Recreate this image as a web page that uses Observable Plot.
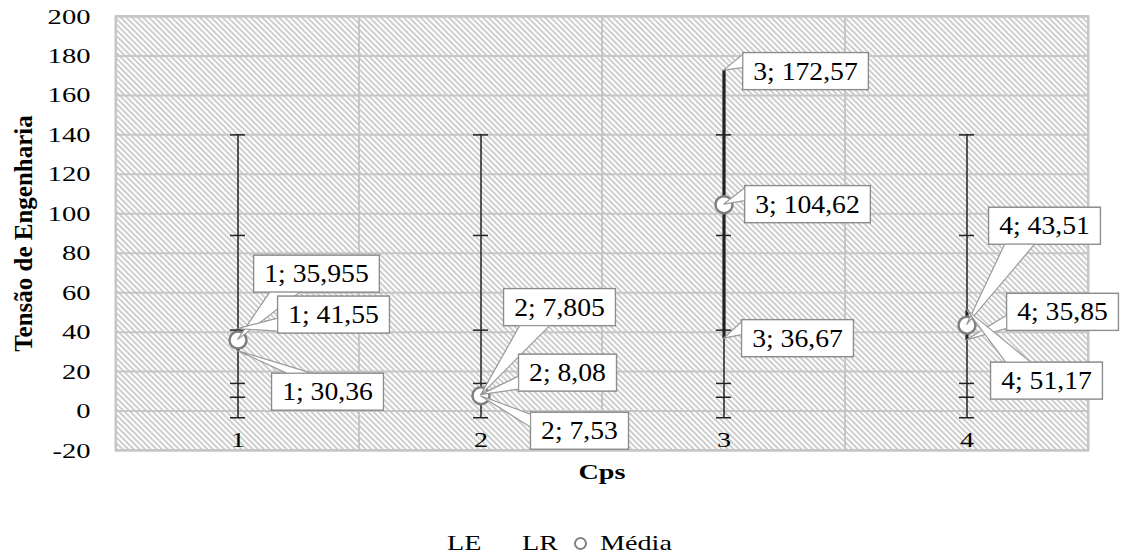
<!DOCTYPE html>
<html>
<head>
<meta charset="utf-8">
<script src="https://cdn.jsdelivr.net/npm/d3@7"></script>
<script src="https://cdn.jsdelivr.net/npm/@observablehq/plot@0.6"></script>
<style>
  body { margin: 0; background: #fff; font-family: "Liberation Serif", serif; }
  #wrap { position: relative; width: 1121px; height: 556px; overflow: hidden; }
  #legend { position: absolute; top: 529px; left: 0; width: 1121px; height: 30px; font-size: 22px; color: #000; }
  #legend .lab { position: absolute; top: 0; white-space: nowrap; transform: scaleX(1.28); transform-origin: 0 50%; line-height: 28px; }
  #legend .mk { position: absolute; top: 8px; width: 9px; height: 9px; border: 2px solid #808080; border-radius: 50%; }
</style>
</head>
<body>
<div id="wrap">
  <div id="chart"></div>
  <div id="legend"></div>
</div>
<script>
// ---- data ----
const categories = ["1", "2", "3", "4"];
const media = [35.955, 7.805, 104.62, 43.51];
const LE = [41.55, 8.08, 36.67, 35.85];
const LR = [30.36, 7.53, 172.57, 51.17];
const whiskerLow = [-3.4, -3.4, -3.4, -3.4];
const whiskerHigh = [140, 140, 140, 140];
const capValues = [140, 89, 41, 14, 7, -3.4];
const yTicks = [-20, 0, 20, 40, 60, 80, 100, 120, 140, 160, 180, 200];
const seriesNames = ["LE", "LR", "Média"];
const xTitle = "Cps";
const yTitle = "Tensão de Engenharia";

// ---- layout (callout box offsets in px from the point; legend item positions) ----
const calloutOffsets = {
  "Média": [[79, -66], [79, -88], [84, 0], [78, -99]],
  "LE":    [[96, -14], [87, -22], [74, 0], [96, -28]],
  "LR":    [[90, 41], [99, 35], [82, 1], [80, 71]]
};
const legendLeft = {"LE": 447, "LR": 522, "Média": 600};

const rows = categories.map((c, i) => ({
  cat: c, media: media[i], le: LE[i], lr: LR[i], lo: whiskerLow[i], hi: whiskerHigh[i]
}));
const caps = rows.flatMap(r => capValues.map(v => ({cat: r.cat, v})));

const chart = Plot.plot({
  width: 1121,
  height: 500,
  marginLeft: 115,
  marginRight: 33,
  marginTop: 16,
  marginBottom: 50,
  style: {fontFamily: "'Liberation Serif', serif", fontSize: "22px", color: "#000", background: "white"},
  x: {type: "band", domain: categories, padding: 0, axis: null},
  y: {domain: [-20, 200], axis: null},
  marks: [
    Plot.cell(categories, {x: d => d, fill: "url(#hatch)", stroke: "#c6c6c6", strokeWidth: 2, inset: 0}),
    Plot.gridY(yTicks, {stroke: "#c6c6c6", strokeOpacity: 1, strokeWidth: 2}),
    Plot.frame({stroke: "#c6c6c6", strokeWidth: 2}),
    Plot.axisY(yTicks, {tickSize: 0, tickPadding: 25, tickFormat: d => String(d), label: null, fontSize: 22, className: "stretch-tick"}),
    Plot.text(categories, {x: d => d, text: d => d, frameAnchor: "bottom", dy: -4, fontSize: 22, className: "stretch-x"}),
    Plot.text([xTitle], {frameAnchor: "bottom", dy: 28, fontWeight: "bold", fontSize: 22, className: "stretch-x"}),
    Plot.text([yTitle], {frameAnchor: "left", textAnchor: "middle", rotate: -90, dx: -92, fontWeight: "bold", fontSize: 25}),
    Plot.ruleX(rows, {x: "cat", y1: "lo", y2: "hi", stroke: "#222", strokeWidth: 1.5}),
    Plot.tickY(caps, {x: "cat", y: "v", stroke: "#222", strokeWidth: 1.5, insetLeft: 114, insetRight: 114}),
    Plot.ruleX(rows, {x: "cat", y1: d => Math.min(d.le, d.lr), y2: d => Math.max(d.le, d.lr), stroke: "#222", strokeWidth: 3.2}),
    Plot.dot(rows, {x: "cat", y: "media", r: 8.5, stroke: "#7f7f7f", strokeWidth: 2.5, fill: "white"})
  ]
});
document.getElementById("chart").append(chart);

const svg = d3.select(chart);
svg.insert("defs", ":first-child").html(
  `<pattern id="hatch" patternUnits="userSpaceOnUse" width="4" height="4" patternTransform="rotate(-45)">
     <rect width="4" height="4" fill="white"/>
     <line x1="1" y1="0" x2="1" y2="4" stroke="#b4b4b4" stroke-width="1.3"/>
   </pattern>`
);

// horizontal stretch of a text element about its anchor (reference glyphs are wide)
function stretch(el, k) {
  const b = el.getBBox();
  const a = getComputedStyle(el).textAnchor;
  const ax = a === "end" ? b.x + b.width : a === "middle" ? b.x + b.width / 2 : b.x;
  const t = el.getAttribute("transform") || "";
  el.setAttribute("transform", `${t} translate(${ax},0) scale(${k},1) translate(${-ax},0)`);
}
chart.querySelectorAll(".stretch-tick text").forEach(el => stretch(el, 1.3));
chart.querySelectorAll(".stretch-x text").forEach(el => stretch(el, 1.28));

// ---- callouts ----
const xs = chart.scale("x"), ys = chart.scale("y");
const px = c => xs.apply(c) + xs.bandwidth / 2;
const py = v => ys.apply(v);
const fmt = (c, v) => `${c}; ${String(v).replace(".", ",")}`;
const layer = svg.append("g").attr("font-size", 24.5).attr("fill", "#000");
const seriesValues = {"Média": media, "LE": LE, "LR": LR};
const K = 1.13;

for (const name of ["Média", "LE", "LR"]) {
  seriesValues[name].forEach((v, i) => {
    const c = categories[i];
    const tx = px(c), ty = py(v);
    const [ox, oy] = calloutOffsets[name][i];
    const cx = tx + ox, cy = ty + oy;
    const g = layer.append("g");
    const t = g.append("text").attr("x", cx).attr("y", cy).attr("text-anchor", "middle")
      .attr("dy", "0.35em").text(fmt(c, v));
    const w = t.node().getComputedTextLength() * K + 21, h = 37;
    stretch(t.node(), K);
    const x0 = cx - w / 2, x1 = cx + w / 2, y0 = cy - h / 2, y1 = cy + h / 2;
    const dxE = Math.max(0, x0 - tx);
    const dyE = ty < y0 ? y0 - ty : ty > y1 ? ty - y1 : 0;
    let base;
    if (dyE > 0.5 * dxE) {
      if (ty < y0) base = [[x0 + 15, y0], [x0 + 40, y0]];
      else base = [[x0 + 16, y1], [x0 + 46, y1]];
    } else {
      if (ty <= cy) base = [[x0, y0 + 2], [x0, y0 + 15]];
      else base = [[x0, y1 - 15], [x0, y1 - 2]];
    }
    g.insert("rect", "text").attr("x", x0).attr("y", y0).attr("width", w).attr("height", h)
      .attr("fill", "white").attr("stroke", "#8c8c8c").attr("stroke-width", 1.5);
    g.insert("path", "text").attr("d", `M${base[0][0]},${base[0][1]}L${tx},${ty}L${base[1][0]},${base[1][1]}Z`)
      .attr("fill", "white").attr("stroke", "#9a9a9a").attr("stroke-width", 1.2);
    g.insert("rect", "text").attr("x", x0 + 1).attr("y", y0 + 1).attr("width", w - 2).attr("height", h - 2)
      .attr("fill", "white");
  });
}

// ---- legend ----
const legend = d3.select("#legend");
seriesNames.forEach(n => {
  if (n === "Média") legend.append("div").attr("class", "mk").style("left", (legendLeft[n] - 26) + "px");
  legend.append("span").attr("class", "lab").style("left", legendLeft[n] + "px").text(n);
});
</script>
</body>
</html>
